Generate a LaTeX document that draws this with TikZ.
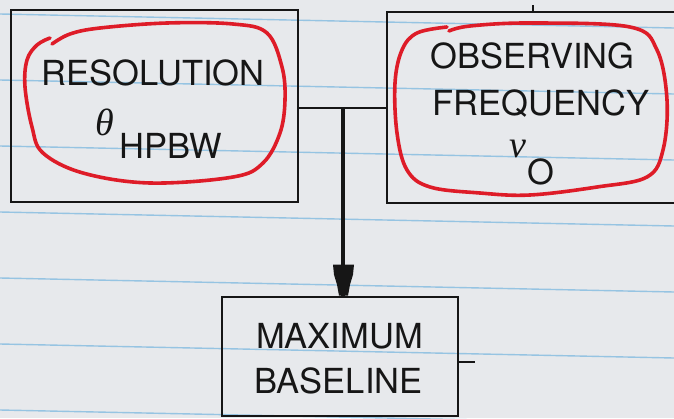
\documentclass[tikz,border=0pt]{standalone}
\usepackage{fontspec}
\setmainfont{TeX Gyre Heros}
\newfontfamily\greekfont{Liberation Serif}
\definecolor{paper}{RGB}{231,233,236}
\definecolor{ruleblue}{RGB}{150,196,226}
\definecolor{pen}{RGB}{222,28,40}
\definecolor{ink}{RGB}{22,22,22}
\tikzset{
  box/.style={draw=ink, line width=2.8pt, rectangle, inner sep=0pt},
  lbl/.style={text=ink, inner sep=0pt, font=\fontsize{34.5}{40}\selectfont},
  sym/.style={text=ink, inner sep=0pt, font=\greekfont\itshape\fontsize{38}{44}\selectfont},
  wire/.style={draw=ink, line width=2.6pt},
  mainwire/.style={draw=ink, line width=4.5pt},
  redpen/.style={draw=pen, line width=3.6pt, line cap=round, line join=round},
  ruling/.style={draw=ruleblue, line width=1.4pt}
}
\begin{document}
\begin{tikzpicture}[x=1pt,y=-1pt]
\useasboundingbox (0,0) rectangle (674,418);
% sheet of ruled paper
\fill[paper] (0,0) rectangle (674,418);
\foreach \k in {0,...,6}
  \draw[ruling] (0,14+66*\k) -- (674,28+66*\k);

% boxes
\node[box, minimum width=287pt, minimum height=192pt] (res) at (154.5,106) {};
\node[box, minimum width=313pt, minimum height=191pt] (obs) at (543.5,107.5) {};
\node[box, minimum width=236pt, minimum height=119pt] (base) at (340,356.5) {};

% labels
\node[lbl, anchor=base] (resT) at (153,85) {RESOLUTION};
\node[sym, anchor=base west] (theta) at (95,135) {θ};
\node[lbl, anchor=base west] (hpbw) at (119,158) {HPBW};

\node[lbl, anchor=base] (obsT1) at (532.5,68) {OBSERVING};
\node[lbl, anchor=base] (obsT2) at (541,115) {FREQUENCY};
\node[sym, anchor=base west] (nu) at (509,157) {ν};
\node[lbl, anchor=base west] (zero) at (527,184) {O};

\node[lbl, anchor=base] (baseT1) at (339.5,348) {MAXIMUM};
\node[lbl, anchor=base] (baseT2) at (338.5,393) {BASELINE};

% connectors
\coordinate (j) at (343,108);
\draw[wire] (res.east |- j) -- (obs.west |- j);
\draw[mainwire] (j) -- (j |- base.north);
\fill[ink, shift={(j |- base.north)}]
  (-10,-31) -- (11,-31) -- (10,-21) -- (7,-11) -- (5,0) -- (-4,0) -- (-6,-11) -- (-9,-21) -- cycle;

% small stubs on the box edges
\coordinate (tk1) at (533,5);
\draw[wire, line width=2.2pt] (tk1 |- obs.north) -- (tk1);
\coordinate (tk2) at (475,362);
\draw[wire, line width=2.2pt] (base.east |- tk2) -- (tk2);

% hand-drawn red loops
\draw[redpen] plot[smooth, tension=0.6] coordinates {
  (52,44) (70,34) (100,28) (167,23) (233,24) (267,33) (282,67) (285,100)
  (280,133) (263,163) (233,177) (150,183) (83,173) (43,153) (32,127)
  (25,87) (27,60) (37,45) (50,38)};
\draw[redpen] plot[smooth, tension=0.6] coordinates {
  (449,31) (470,26) (530,23) (630,27) (657,50) (667,100) (663,150)
  (647,177) (597,187) (530,195) (480,193) (430,187) (407,170) (397,133)
  (395,83) (402,50) (417,33) (447,27)};
\end{tikzpicture}
\end{document}
